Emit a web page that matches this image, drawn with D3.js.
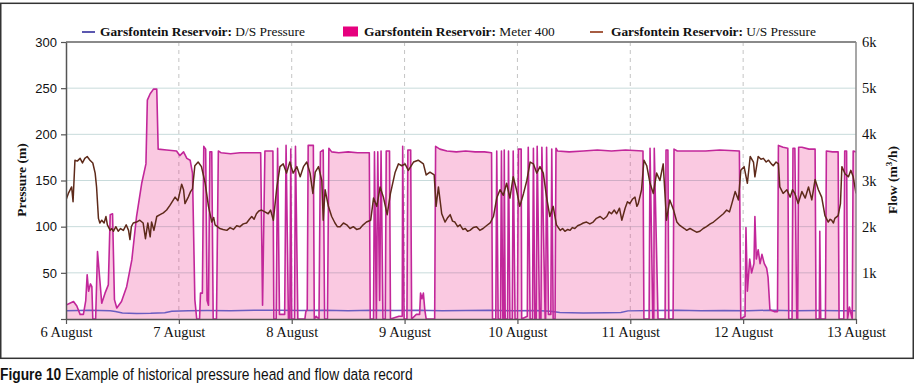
<!DOCTYPE html>
<html>
<head>
<meta charset="utf-8">
<script src="https://cdn.jsdelivr.net/npm/d3@7"></script>
<style>
body { margin: 0; background: #fff; }
svg text { font-family: "Liberation Serif", serif; fill: #111; }
</style>
</head>
<body>
<svg id="chart" width="915" height="391"></svg>
<script>
// x values are hours since 6 August 00:00
var dayHours  = [0, 24, 48, 72, 96, 120, 144, 168];
var dayLabels = ["6 August", "7 August", "8 August", "9 August", "10 August", "11 August", "12 August", "13 August"];
var pressureTicks = [0, 50, 100, 150, 200, 250, 300];
var flowTicks = [0, 1000, 2000, 3000, 4000, 5000, 6000];
var flowTickLabels = ["", "1k", "2k", "3k", "4k", "5k", "6k"];

// Garsfontein Reservoir: D/S Pressure (m)
var dsPressure = [[0,9],[5,9.5],[9.4,9],[10.5,8],[12,6.5],[15,6],[18,6.2],[21,6.8],[22.5,8.5],[26,9],[30,9.2],[35,9],
  [40,9.5],[45,9.5],[50,9.2],[55,9.5],[60,9],[65,9.5],[70,9.2],[75,9.5],[80,9],[85,9.3],[90,9.5],[95,9],[100,9.2],
  [103,8.5],[105,7],[110,6.5],[115,6.8],[118,7],[119.5,8.8],[125,9.2],[130,9.5],[135,9],[140,9.3],[145,9],[150,9.5],
  [155,9],[160,9.2],[165,9],[168,9]];

// Garsfontein Reservoir: Meter 400 (m3/h)
var meterFlow = [[0,300],[1.6,380],[2.3,280],[3.0,100],[3.7,100],[4.2,400],[4.5,960],[4.8,600],[5.2,760],[5.5,700],
  [5.7,0],[6.3,0],[6.7,1460],[7.2,840],[7.6,340],[8.3,560],[9.0,740],[9.4,2260],[9.9,2280],[10.3,420],[10.8,240],
  [11.8,380],[12.9,700],[14.0,1280],[15.0,2220],[16.1,2940],[17.0,3360],[17.3,4740],[17.9,4880],[18.6,4980],
  [19.3,4980],[19.6,3680],[21.4,3660],[23.5,3640],[24.2,3540],[25.0,3620],[25.7,3480],[26.4,3440],[26.9,3160],
  [27.4,420],[27.8,0],[28.4,0],[28.6,560],[29.0,560],[29.3,3740],[29.7,3680],[30.0,400],[30.3,300],[30.6,3620],
  [31.0,3620],[31.3,0],[32.0,0],[32.4,3640],[33,3600],[35,3580],[37,3600],[39,3600],[41.4,3600],[41.8,300],
  [42.3,3640],[44.0,3640],[44.2,0],[44.7,0],[45.0,3700],[45.4,100],[46.5,100],[46.8,3760],[47.3,0],[47.6,0],
  [47.8,3680],[48.0,0],[48.6,0],[48.8,3740],[49.3,0],[50.8,0],[51.0,160],[51.3,200],[51.5,3760],[52.6,3760],
  [52.8,0],[53.2,60],[53.8,0],[54.1,3620],[54.7,3660],[55.0,0],[55.6,0],[55.9,3700],[56.5,3620],[58,3600],
  [60,3620],[62,3600],[64.5,3600],[64.7,0],[65.4,0],[65.6,3620],[66.0,0],[66.3,3620],[66.7,400],[67.0,3640],
  [67.4,0],[67.9,0],[68.1,3640],[68.8,3640],[69.0,0],[70.8,60],[71.5,60],[71.6,3740],[71.9,0],[72.5,0],
  [72.7,3660],[73.3,3660],[73.5,0],[74.5,100],[75.2,100],[75.4,560],[75.7,440],[76.0,560],[76.3,200],[76.6,0],
  [78.4,0],[78.6,3740],[79.5,3680],[81,3640],[83,3620],[85,3640],[87,3620],[89,3620],[90.5,3600],[90.7,0],
  [91.4,0],[91.6,3640],[91.9,0],[92.4,0],[92.6,3640],[92.9,0],[93.1,0],[93.2,3660],[93.4,0],[93.9,0],
  [94.1,3640],[94.4,0],[94.9,0],[95.1,3640],[95.5,0],[96.0,0],[96.2,3680],[96.8,3680],[96.9,0],[98.1,60],
  [98.3,3720],[98.7,0],[99.2,0],[99.4,3700],[99.7,0],[100.0,0],[100.2,3740],[100.7,0],[101.0,0],[101.2,3720],
  [101.9,0],[102.0,0],[102.2,3720],[102.6,100],[103.1,100],[103.3,3680],[103.6,0],[104.0,0],[104.2,3700],
  [104.5,3640],[107,3620],[110,3640],[113,3660],[116,3640],[119,3660],[122.7,3640],[122.9,0],[124.0,0],
  [124.2,3700],[124.8,0],[125.0,0],[125.1,3700],[125.9,0],[127.4,0],[127.6,3660],[128.0,3660],[128.2,0],
  [129.1,0],[129.3,3680],[130,3640],[133,3640],[136,3640],[139,3660],[143.2,3640],[143.5,0],[144.4,60],
  [144.6,1980],[144.9,600],[145.4,1300],[145.8,1000],[146.3,1200],[146.5,2220],[146.8,1300],[147.2,1500],
  [147.6,1200],[148.0,1400],[148.5,1200],[149.0,1100],[149.3,900],[149.7,200],[150.6,160],[151.3,160],
  [151.5,3760],[152.5,3720],[153.5,3700],[153.7,0],[154.4,0],[154.6,3700],[155.0,3700],[155.4,0],[155.6,0],
  [155.8,3720],[156.5,3720],[158,3680],[159.3,3680],[159.5,0],[160.2,0],[160.3,1900],[160.5,0],[161.5,0],
  [161.7,3640],[163,3620],[164.2,3620],[164.4,0],[165.4,0],[165.6,3640],[166.0,3640],[166.2,0],[166.6,260],
  [167.2,0],[167.4,3640],[168,3620]];

// Garsfontein Reservoir: U/S Pressure (m)
var usPressure = [[0,129],[0.5,136],[1.2,143],[1.5,127],[1.9,172],[2.4,171],[3.0,174],[3.5,169],[4.0,174],[4.5,176],
  [5.1,172],[5.7,169],[6.2,158],[6.5,143],[6.9,109],[7.2,104],[7.6,107],[8.1,104],[8.5,111],[8.8,102],[9.4,96],
  [9.7,98],[10.1,95],[10.6,100],[11.1,95],[11.6,98],[12.2,96],[12.8,102],[13.3,96],[13.6,86],[13.9,100],[14.3,104],
  [15.0,105],[15.7,107],[16.4,104],[16.9,87],[17.4,104],[17.9,89],[18.2,105],[18.7,96],[19.3,111],[20.0,113],
  [20.7,115],[21.4,118],[22.1,123],[23.2,132],[23.8,128],[24.6,146],[25.0,140],[25.3,125],[26.0,132],[26.5,138],
  [26.9,141],[27.4,166],[28.1,170],[28.8,165],[29.6,147],[30.3,122],[31.0,105],[31.4,110],[31.7,102],[32.2,100],
  [32.7,98],[33.4,97],[34.2,96],[34.9,99],[35.6,97],[36.3,101],[37.0,100],[37.7,103],[38.4,104],[39.0,108],
  [39.5,111],[40.0,108],[40.5,114],[41.0,117],[41.6,118],[42.3,116],[43.0,114],[43.5,118],[44.1,107],[44.8,141],
  [45.5,165],[46.2,168],[46.9,158],[47.6,170],[48.3,158],[49.1,165],[49.8,154],[50.5,165],[51.2,170],[51.9,158],
  [52.5,136],[53.0,159],[53.7,165],[54.4,150],[54.7,107],[55.1,140],[55.8,122],[56.5,111],[57.2,104],[57.7,100],
  [58.3,100],[59.0,104],[59.7,102],[60.4,98],[61.1,100],[61.8,97],[62.5,98],[63.2,102],[63.9,105],[64.8,107],
  [65.4,131],[66.1,122],[66.8,143],[67.5,132],[68.3,113],[69.0,136],[70.0,159],[70.7,168],[71.4,166],[72.1,168],
  [72.8,161],[73.9,170],[74.9,172],[76.0,168],[76.6,156],[77.4,159],[78.3,156],[78.7,122],[79.2,143],[79.9,114],
  [80.6,105],[81.2,110],[81.7,113],[82.2,106],[82.7,105],[83.3,100],[83.8,102],[84.4,97],[84.9,98],[85.4,95],
  [85.9,96],[86.6,99],[87.3,100],[88.0,96],[88.7,98],[89.4,101],[90.2,104],[90.9,111],[91.6,131],[92.3,140],
  [93.0,134],[93.7,147],[94.4,131],[95.1,154],[95.8,140],[96.5,122],[97.3,136],[98.0,150],[98.7,170],[99.4,168],
  [100.1,158],[100.8,165],[101.5,158],[102.2,132],[102.9,111],[103.6,122],[104.3,102],[105.1,96],[105.6,98],
  [106.1,95],[106.7,97],[107.2,96],[107.7,99],[108.2,98],[108.8,101],[109.3,102],[110.0,104],[110.7,105],
  [111.4,103],[112.1,105],[112.8,109],[113.6,111],[114.3,108],[115.0,111],[115.5,116],[116.0,114],[116.6,118],
  [117.1,114],[117.7,120],[118.2,107],[118.9,120],[119.4,127],[119.9,125],[120.5,130],[121.0,132],[121.4,122],
  [121.7,125],[122.4,140],[122.9,172],[123.5,166],[124.2,147],[124.9,136],[125.6,158],[126.3,150],[127.0,168],
  [127.7,107],[128.4,129],[129.2,118],[129.9,105],[130.4,102],[130.9,100],[131.5,98],[132.0,96],[132.7,98],
  [133.4,96],[134.1,94],[134.8,95],[135.5,98],[136.2,100],[137.0,103],[137.7,105],[138.4,108],[139.1,111],
  [139.8,114],[140.5,118],[141.1,116],[141.6,125],[142.3,138],[143.0,129],[143.5,161],[144.2,165],[144.9,147],
  [145.5,176],[146.2,170],[146.5,154],[147.2,176],[147.8,173],[148.3,174],[148.9,170],[149.4,172],[150.0,168],
  [150.4,166],[151.0,170],[151.5,168],[151.8,143],[152.5,136],[153.3,140],[154.0,132],[154.5,140],[155.0,136],
  [155.7,125],[156.5,138],[157.2,131],[157.9,143],[158.6,129],[159.3,151],[160.0,140],[160.7,132],[161.4,112],
  [162.1,105],[162.5,108],[162.8,107],[163.2,104],[163.5,109],[164.2,112],[164.7,125],[165.0,165],[165.7,157],
  [166.4,154],[166.9,161],[167.4,154],[168.0,136]];

var svg = d3.select("#chart"),
    margin = {top: 42, right: 59, bottom: 72, left: 66},
    width  = 915 - margin.left - margin.right,
    height = 391 - margin.top - margin.bottom,
    xScale = d3.scaleLinear().domain([0, 168]).range([0, width]),
    yLeft  = d3.scaleLinear().domain([0, 300]).range([height, 0]),
    yRight = d3.scaleLinear().domain([0, 6000]).range([height, 0]),
    g = svg.append("g").attr("transform", `translate(${margin.left},${margin.top})`);

// outer frame
svg.append("rect")
    .attr("x", 0.75).attr("y", 3.3)
    .attr("width", 912.5).attr("height", 355)
    .attr("fill", "none").attr("stroke", "#333").attr("stroke-width", 1.5);

svg.append("defs").append("clipPath").attr("id", "plot-clip")
    .append("rect").attr("width", width).attr("height", height);

// grid
g.selectAll(".hgrid")
    .data(pressureTicks.slice(1, -1))
    .enter().append("line")
    .attr("x1", 0).attr("x2", width)
    .attr("y1", d => yLeft(d)).attr("y2", d => yLeft(d))
    .attr("stroke", "#c8dbdb").attr("stroke-width", 1);

g.selectAll(".vgrid")
    .data(dayHours.slice(1, -1))
    .enter().append("line")
    .attr("x1", d => xScale(d)).attr("x2", d => xScale(d))
    .attr("y1", 0).attr("y2", height)
    .attr("stroke", "#c4c4c4").attr("stroke-dasharray", "4,4");

var plot = g.append("g").attr("clip-path", "url(#plot-clip)");

var dsLine = d3.line().x(d => xScale(d[0])).y(d => yLeft(d[1]));
var usLine = d3.line().x(d => xScale(d[0])).y(d => yLeft(d[1]));
var flowLine = d3.line().x(d => xScale(d[0])).y(d => yRight(d[1]));
var flowArea = d3.area().x(d => xScale(d[0])).y0(height).y1(d => yRight(d[1]));

plot.append("path").datum(meterFlow)
    .attr("d", flowArea)
    .attr("fill", "#e8157f").attr("fill-opacity", 0.23);

plot.append("path").datum(dsPressure)
    .attr("d", dsLine)
    .attr("fill", "none").attr("stroke", "#6b5cc0").attr("stroke-width", 1.5);

plot.append("path").datum(meterFlow)
    .attr("d", flowLine)
    .attr("fill", "none").attr("stroke", "#c2279a").attr("stroke-width", 1.6)
    .attr("stroke-linejoin", "round");

plot.append("path").datum(usPressure)
    .attr("d", usLine)
    .attr("fill", "none").attr("stroke", "#5e2a1a").attr("stroke-width", 1.5)
    .attr("stroke-linejoin", "round");

// frame of the plot
g.append("line").attr("x1", 0).attr("x2", width).attr("y1", 0).attr("y2", 0)
    .attr("stroke", "#8a8a8a").attr("stroke-width", 2);
g.append("line").attr("x1", width).attr("x2", width).attr("y1", 0).attr("y2", height)
    .attr("stroke", "#8a8a8a").attr("stroke-width", 1.5);

// axes
var leftAxis = g.append("g")
    .call(d3.axisLeft(yLeft).tickValues(pressureTicks).tickSize(5).tickSizeOuter(0).tickPadding(4)
        .tickFormat(d => d === 0 ? "" : d));
leftAxis.selectAll("text")
    .style("font-family", "'Liberation Sans', Arial, sans-serif").style("font-size", "13px").attr("fill", "#111");

var bottomAxis = g.append("g")
    .attr("transform", `translate(0,${height})`)
    .call(d3.axisBottom(xScale).tickValues(dayHours).tickSize(5).tickSizeOuter(0).tickPadding(3)
        .tickFormat((d, i) => dayLabels[i]));
bottomAxis.selectAll("text").style("font-size", "14.5px").attr("fill", "#111");

var rightAxis = g.append("g")
    .attr("transform", `translate(${width},0)`)
    .call(d3.axisRight(yRight).tickValues(flowTicks).tickSize(0).tickPadding(6)
        .tickFormat((d, i) => flowTickLabels[i]));
rightAxis.select(".domain").remove();
rightAxis.selectAll("text").style("font-size", "14.5px").attr("fill", "#111");

[leftAxis, bottomAxis].forEach(a => {
    a.select(".domain").attr("stroke", "#555").attr("stroke-width", 1.5);
    a.selectAll(".tick line").attr("stroke", "#555").attr("stroke-width", 1.2);
});

// axis titles
svg.append("text")
    .attr("transform", "translate(26,180) rotate(-90)")
    .attr("text-anchor", "middle")
    .style("font-size", "13.5px").style("font-weight", "bold")
    .text("Pressure (m)");

var flowTitle = svg.append("text")
    .attr("transform", "translate(897,180) rotate(-90)")
    .attr("text-anchor", "middle")
    .style("font-size", "13.5px").style("font-weight", "bold");
flowTitle.append("tspan").text("Flow (m");
flowTitle.append("tspan").attr("baseline-shift", "super").style("font-size", "9px").text("3");
flowTitle.append("tspan").text("/h)");

// legend
var legend = svg.append("g");
legend.append("line").attr("x1", 82).attr("x2", 95).attr("y1", 32).attr("y2", 32)
    .attr("stroke", "#5b58b0").attr("stroke-width", 2);
legend.append("rect").attr("x", 343).attr("y", 26.5).attr("width", 15).attr("height", 10)
    .attr("fill", "#e6007e");
legend.append("line").attr("x1", 590).attr("x2", 603).attr("y1", 32).attr("y2", 32)
    .attr("stroke", "#a65c42").attr("stroke-width", 2);

var legendItems = [[100, "D/S Pressure"], [364, "Meter 400"], [611, "U/S Pressure"]];
legendItems.forEach(function(item){
    var t = legend.append("text").attr("x", item[0]).attr("y", 36).style("font-size", "13.4px");
    t.append("tspan").style("font-weight", "bold").text("Garsfontein Reservoir:");
    t.append("tspan").text(" " + item[1]);
});

// caption, squeezed horizontally to the width of the original condensed font
var captionG = svg.append("g");
var caption = captionG.append("text")
    .attr("x", 0).attr("y", 0)
    .style("font-family", "'Liberation Sans', Arial, sans-serif")
    .style("font-size", "16.5px");
caption.append("tspan").style("font-weight", "bold").text("Figure 10");
caption.append("tspan").text(" Example of historical pressure head and flow data record");
var capW = caption.node().getComputedTextLength();
captionG.attr("transform", `translate(0,380) scale(${413 / capW},1)`);
</script>
</body>
</html>
